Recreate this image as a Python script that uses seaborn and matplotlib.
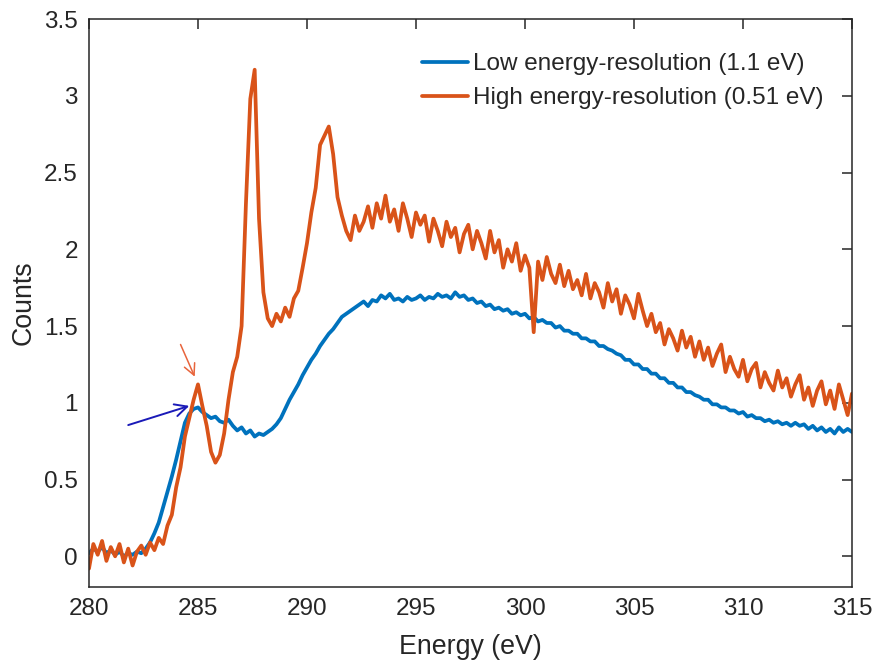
import numpy as np
import pandas as pd
import matplotlib
matplotlib.use("Agg")
import matplotlib.pyplot as plt
import seaborn as sns

# Energy axis (eV), 0.2 eV steps from 280 to 315
energy = np.round(np.arange(280.0, 315.001, 0.2), 1)

# Low energy-resolution spectrum (1.1 eV)
low_res = [
    0.02, 0.05, 0.03, 0.06, 0.02, 0.04, 0.01, 0.03, 0.00, 0.02,   # 280
    0.01, 0.03, 0.02, 0.05, 0.09, 0.15, 0.22, 0.32, 0.42, 0.52,   # 282
    0.63, 0.75, 0.87, 0.93, 0.96, 0.97, 0.94, 0.92, 0.90, 0.91,   # 284
    0.88, 0.87, 0.89, 0.85, 0.82, 0.84, 0.80, 0.82, 0.78, 0.80,   # 286
    0.79, 0.81, 0.83, 0.86, 0.90, 0.96, 1.02, 1.07, 1.12, 1.18,   # 288
    1.23, 1.28, 1.32, 1.37, 1.41, 1.45, 1.48, 1.52, 1.56, 1.58,   # 290
    1.60, 1.62, 1.64, 1.66, 1.63, 1.67, 1.66, 1.70, 1.68, 1.71,   # 292
    1.67, 1.68, 1.66, 1.69, 1.67, 1.68, 1.70, 1.67, 1.69, 1.68,   # 294
    1.71, 1.69, 1.70, 1.68, 1.72, 1.69, 1.70, 1.67, 1.68, 1.65,   # 296
    1.66, 1.63, 1.64, 1.61, 1.62, 1.60, 1.61, 1.58, 1.59, 1.57,   # 298
    1.58, 1.55, 1.56, 1.53, 1.54, 1.52, 1.52, 1.49, 1.50, 1.47,   # 300
    1.47, 1.45, 1.45, 1.42, 1.42, 1.40, 1.40, 1.37, 1.37, 1.35,   # 302
    1.34, 1.32, 1.31, 1.28, 1.28, 1.25, 1.25, 1.22, 1.22, 1.19,   # 304
    1.19, 1.16, 1.16, 1.13, 1.13, 1.10, 1.10, 1.07, 1.07, 1.05,   # 306
    1.04, 1.02, 1.02, 0.99, 0.99, 0.97, 0.97, 0.95, 0.95, 0.93,   # 308
    0.94, 0.91, 0.92, 0.90, 0.90, 0.88, 0.89, 0.87, 0.88, 0.86,   # 310
    0.87, 0.85, 0.87, 0.85, 0.86, 0.83, 0.85, 0.82, 0.84, 0.81,   # 312
    0.83, 0.80, 0.84, 0.81, 0.83, 0.81,                           # 314
]

# High energy-resolution spectrum (0.51 eV)
high_res = [
    -0.08, 0.08, 0.01, 0.10, -0.03, 0.06, 0.00, 0.08, -0.04, 0.05,  # 280
    -0.06, 0.03, 0.07, 0.01, 0.09, 0.04, 0.12, 0.08, 0.20, 0.27,    # 282
    0.45, 0.58, 0.78, 0.90, 1.02, 1.12, 0.98, 0.85, 0.68, 0.61,     # 284
    0.66, 0.80, 1.02, 1.20, 1.30, 1.50, 2.30, 2.98, 3.17, 2.20,     # 286
    1.72, 1.55, 1.50, 1.58, 1.53, 1.62, 1.56, 1.68, 1.73, 1.88,     # 288
    2.04, 2.24, 2.40, 2.68, 2.74, 2.80, 2.62, 2.34, 2.22, 2.12,     # 290
    2.06, 2.22, 2.12, 2.18, 2.28, 2.14, 2.30, 2.20, 2.35, 2.18,     # 292
    2.26, 2.12, 2.30, 2.20, 2.08, 2.24, 2.16, 2.22, 2.05, 2.20,     # 294
    2.12, 2.02, 2.18, 2.08, 2.14, 1.98, 2.10, 2.16, 2.00, 2.12,     # 296
    2.04, 1.94, 2.12, 1.98, 2.06, 1.88, 2.00, 1.92, 2.04, 1.86,     # 298
    1.96, 1.88, 1.46, 1.92, 1.80, 1.95, 1.84, 1.78, 1.90, 1.76,     # 300
    1.86, 1.74, 1.80, 1.70, 1.84, 1.68, 1.78, 1.72, 1.62, 1.78,     # 302
    1.66, 1.74, 1.58, 1.70, 1.64, 1.55, 1.71, 1.60, 1.50, 1.58,     # 304
    1.46, 1.52, 1.38, 1.48, 1.42, 1.34, 1.47, 1.36, 1.43, 1.30,     # 306
    1.40, 1.28, 1.36, 1.24, 1.32, 1.38, 1.20, 1.30, 1.22, 1.17,     # 308
    1.28, 1.14, 1.22, 1.26, 1.10, 1.20, 1.13, 1.08, 1.21, 1.10,     # 310
    1.16, 1.04, 1.12, 1.18, 1.02, 1.10, 0.98, 1.08, 1.14, 0.99,     # 312
    1.08, 0.96, 1.12, 1.02, 0.92, 1.06,                             # 314
]

series_labels = ["Low energy-resolution (1.1 eV)", "High energy-resolution (0.51 eV)"]
series_colors = ["#0072BD", "#D95319"]

x_ticks = [280, 285, 290, 295, 300, 305, 310, 315]
y_ticks = [0, 0.5, 1, 1.5, 2, 2.5, 3, 3.5]
y_tick_labels = ["0", "0.5", "1", "1.5", "2", "2.5", "3", "3.5"]

# arrows marking the edge onset (tail -> head, data coords)
blue_arrow = [(281.8, 0.855), (284.6, 0.98)]
orange_arrow = [(284.2, 1.38), (284.85, 1.17)]

sns.set_style("white")
plt.rcParams["font.family"] = ["Liberation Sans", "DejaVu Sans"]

df = pd.DataFrame({
    "Energy": np.concatenate([energy, energy]),
    "Counts": np.concatenate([low_res, high_res]),
    "Series": [series_labels[0]] * len(energy) + [series_labels[1]] * len(energy),
})

fig = plt.figure(figsize=(8.75, 6.65), dpi=100)
ax = fig.add_axes([0.1017, 0.1173, 0.872, 0.854])

sns.lineplot(data=df, x="Energy", y="Counts", hue="Series",
             palette=series_colors, hue_order=series_labels,
             estimator=None, sort=False, linewidth=2.7, ax=ax)

ax.annotate("", xy=blue_arrow[1], xytext=blue_arrow[0],
            arrowprops=dict(arrowstyle="->", color="#1a1ab8", lw=1.4,
                            mutation_scale=22, shrinkA=0, shrinkB=0))
ax.annotate("", xy=orange_arrow[1], xytext=orange_arrow[0],
            arrowprops=dict(arrowstyle="->", color="#e8643c", lw=1.1,
                            mutation_scale=20, shrinkA=0, shrinkB=0))

ax.set_xlim(280, 315)
ax.set_ylim(-0.2, 3.5)
ax.set_xticks(x_ticks)
ax.set_yticks(y_ticks)
ax.set_yticklabels(y_tick_labels)
ax.tick_params(direction="in", length=7, width=1.1, colors="#262626",
               labelsize=17.5, top=True, right=True, pad=8)
ax.set_xlabel("Energy (eV)", fontsize=19.3, color="#262626", labelpad=10)
ax.set_ylabel("Counts", fontsize=19.3, color="#262626", labelpad=5)
for s in ax.spines.values():
    s.set_color("#262626")
    s.set_linewidth(1.1)

ax.legend(loc="upper right", bbox_to_anchor=(0.985, 0.97), frameon=False,
          fontsize=17.5, handlelength=1.9, handletextpad=0.2,
          labelspacing=0.5, borderaxespad=0.3)

fig.savefig("out.png", dpi=100)
